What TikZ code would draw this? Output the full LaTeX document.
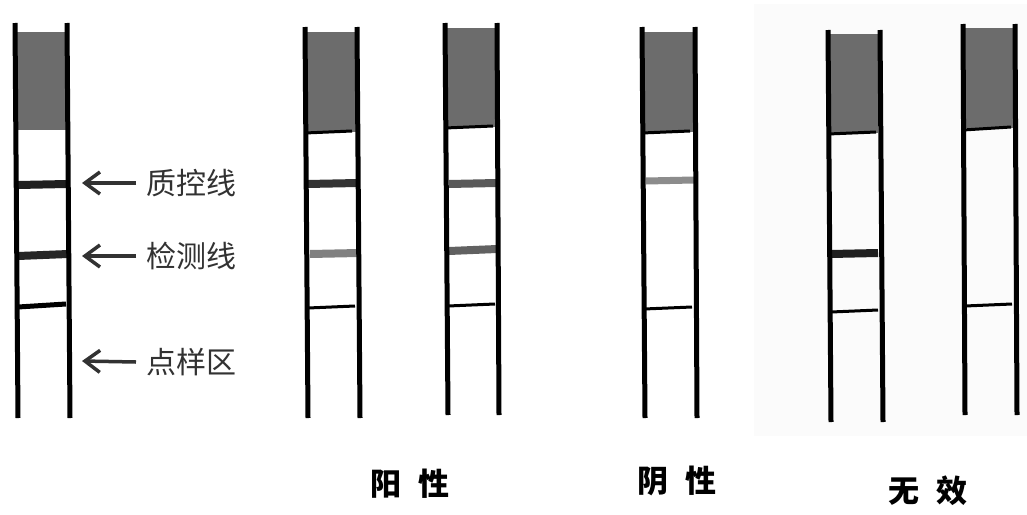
\documentclass[tikz,border=0pt]{standalone}
\usepackage{fontspec}
\newfontfamily\cjk{Noto Sans CJK SC}
\usetikzlibrary{arrows.meta}
\definecolor{pad}{RGB}{108,108,108}
\definecolor{txt}{RGB}{50,50,50}
\definecolor{bgpanel}{RGB}{251,251,251}
\begin{document}
\begin{tikzpicture}[x=1pt,y=-1pt,
  rail/.style={line width=5pt,black},
  padfill/.style={fill=pad},
  rim/.style={line width=3pt,black},
  band/.style={line width=8pt},
  baseline/.style={line width=3pt,black},
  pointer/.style={line width=3.5pt,txt,-{Straight Barb[length=15pt,width=22pt,line width=3.5pt]}},
  lbl/.style={font=\cjk\fontsize{30}{34}\selectfont,text=txt,inner sep=0pt},
  verdict/.style={font=\cjk\bfseries\fontsize{31}{36}\selectfont,text=black,inner sep=0pt}]
\useasboundingbox (0,0) rectangle (1027,514);
\fill[white] (0,0) rectangle (1027,514);
\fill[bgpanel] (754,4) rectangle (1027,436);
% strip 1 (legend)
\fill[pad] (17,32) rectangle (66,130);
\draw[band,color=black!88] (18,185) -- (67,184);
\draw[band,color=black!85] (18,256) -- (68,254);
\draw[line width=5pt,black] (18,307) -- (66,304);
\draw[rail] (15,23) -- (18,418);
\draw[rail] (67,23) -- (70,418);
% strip 2 (positive)
\fill[pad] (306,32) rectangle (356,132);
\draw[rim] (305,133) -- (352,131);
\draw[band,color=black!80] (307,184) -- (358,183);
\draw[band,color=black!50] (310,254) -- (359,253);
\draw[baseline] (308,308) -- (355,306);
\draw[rail] (305,27) -- (308,418);
\draw[rail] (357,27) -- (360,418);
% strip 3 (positive)
\fill[pad] (447,28) rectangle (496,127);
\draw[rim] (445,128) -- (493,126);
\draw[band,color=black!65] (449,184) -- (497,183);
\draw[band,color=black!62] (449,251) -- (497,249);
\draw[baseline] (448,306) -- (495,304);
\draw[rail] (445,23) -- (448,415);
\draw[rail] (497,23) -- (499,415);
% strip 4 (negative)
\fill[pad] (644,32) rectangle (694,132);
\draw[rim] (642,133) -- (690,131);
\draw[line width=7pt,color=black!45] (646,181) -- (694,180);
\draw[baseline] (644,309) -- (692,307);
\draw[rail] (642,27) -- (645,418);
\draw[rail] (695,27) -- (697,418);
% strip 5 (invalid)
\fill[pad] (830,34) rectangle (878,133);
\draw[rim] (828,134) -- (876,132);
\draw[band,color=black!88] (831,254) -- (878,253);
\draw[baseline] (831,312) -- (878,310);
\draw[rail] (828,30) -- (831,422);
\draw[rail] (880,30) -- (883,422);
% strip 6 (invalid)
\fill[pad] (965,28) rectangle (1013,128);
\draw[rim] (963,130) -- (1011,127);
\draw[baseline] (965,306) -- (1012,304);
\draw[rail] (963,24) -- (965,415);
\draw[rail] (1015,24) -- (1017,415);
% legend labels and arrows
\node[lbl,anchor=west] (qc) at (146,183) {质控线};
\node[lbl,anchor=west] (tl) at (146,256) {检测线};
\node[lbl,anchor=west] (sz) at (146,362) {点样区};
\coordinate (qcend) at (82,183);
\coordinate (tlend) at (82,256);
\coordinate (szend) at (82,361);
\draw[pointer] (qc.west) ++(-10,0) coordinate (qcstart) (qcstart) -- (qcend);
\draw[pointer] (tl.west) ++(-10,0) coordinate (tlstart) (tlstart) -- (tlend);
\draw[pointer] (sz.west) ++(-10,0) coordinate (szstart) (szstart) -- (szend);
% verdict labels
\node[verdict] (pos) at (410,484) {阳\hspace{18pt}性};
\node[verdict] (neg) at (677,481) {阴\hspace{18pt}性};
\node[verdict] (inv) at (928,491) {无\hspace{18pt}效};
\end{tikzpicture}
\end{document}
